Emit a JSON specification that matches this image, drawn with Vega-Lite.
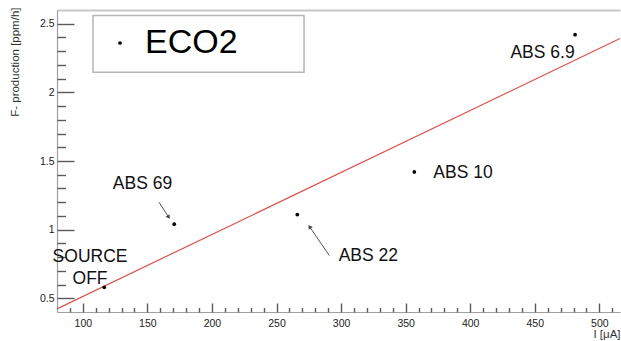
{
  "$schema": "https://vega.github.io/schema/vega-lite/v6.json",
  "width": 563,
  "height": 302,
  "autosize": {"type": "none"},
  "padding": {"left": 57, "top": 10, "right": 1, "bottom": 29},
  "background": "white",
  "config": {
    "font": "Liberation Sans",
    "view": {"stroke": null},
    "axis": {"grid": false, "domainColor": "#a0a0a0", "domainWidth": 1.2, "labelColor": "#222", "labelFontSize": 10.5, "titleColor": "#333", "titleFontWeight": "normal", "titleFontSize": 11.5}
  },
  "datasets": {
    "points": [
      {"current": 116.6, "production": 0.58},
      {"current": 170.8, "production": 1.04},
      {"current": 266.1, "production": 1.11},
      {"current": 356.7, "production": 1.42},
      {"current": 481.2, "production": 2.42}
    ],
    "fit": [
      {"current": 80, "production": 0.423},
      {"current": 516, "production": 2.392}
    ],
    "labels": [
      {"text": "ABS 6.9", "x": 456.0, "y": 2.252},
      {"text": "ABS 10", "x": 394.4, "y": 1.375},
      {"text": "ABS 22", "x": 321.1, "y": 0.770},
      {"text": "ABS 69", "x": 146.2, "y": 1.297},
      {"text": "SOURCE\nOFF", "x": 105.6, "y": 0.762}
    ],
    "arrows": [
      {"label": "ABS 69", "x": 159.0, "y": 1.20, "x2": 166.2, "y2": 1.095},
      {"label": "ABS 22", "x": 290.9, "y": 0.811, "x2": 275.9, "y2": 1.017}
    ]
  },
  "layer": [
    {
      "data": {"values": [{}]},
      "mark": {"type": "rect", "fill": "white", "stroke": "#b5b5b5", "strokeWidth": 1.5},
      "encoding": {
        "x": {"datum": 107.9, "type": "quantitative", "scale": {"domain": [80, 516], "nice": false, "zero": false},
              "axis": {"orient": "top", "ticks": false, "labels": false, "title": null, "domainColor": "#c8c8c8", "domainWidth": 2}},
        "x2": {"datum": 271.3},
        "y": {"datum": 2.56, "type": "quantitative", "scale": {"domain": [0.4, 2.6], "nice": false, "zero": false}, "axis": null},
        "y2": {"datum": 2.147}
      }
    },
    {
      "data": {"name": "fit"},
      "mark": {"type": "line", "color": "#d9534f", "strokeWidth": 1.2},
      "encoding": {
        "x": {"field": "current", "type": "quantitative", "scale": {"domain": [80, 516], "nice": false, "zero": false},
              "axis": {"orient": "bottom", "values": [100, 150, 200, 250, 300, 350, 400, 450, 500], "ticks": false, "labelPadding": 6,
                       "title": "I [μA]", "titleAnchor": "end", "titleAlign": "right", "titleX": 563, "titleY": 25, "titleBaseline": "alphabetic"}},
        "y": {"field": "production", "type": "quantitative", "scale": {"domain": [0.4, 2.6], "nice": false, "zero": false},
              "axis": {"orient": "left", "values": [0.5, 1, 1.5, 2, 2.5], "format": "~g", "ticks": false, "labelPadding": 3,
                       "title": "F- production [ppm/h]", "titleAnchor": "end", "titleAngle": -90, "titleAlign": "right", "titleBaseline": "middle", "titleX": -42, "titleY": -3}}
      }
    },
    {
      "data": {"name": "points"},
      "mark": {"type": "point", "filled": true, "size": 14, "opacity": 1},
      "encoding": {
        "x": {"field": "current", "type": "quantitative", "scale": {"domain": [80, 516], "nice": false, "zero": false},
              "axis": {"orient": "top", "offset": -302, "values": [100, 150, 200, 250, 300, 350, 400, 450, 500], "ticks": true, "tickSize": 9, "tickColor": "#5a5a5a", "tickWidth": 1.4, "labels": false, "domain": false, "title": null}},
        "y": {"field": "production", "type": "quantitative", "scale": {"domain": [0.4, 2.6], "nice": false, "zero": false},
              "axis": {"orient": "right", "offset": -563, "values": [0.5, 1, 1.5, 2, 2.5], "ticks": true, "tickSize": 17, "tickColor": "#5a5a5a", "tickWidth": 1.4, "labels": false, "domain": false, "title": null}},
        "color": {"datum": "ECO2", "type": "nominal", "scale": {"range": ["black"]},
                  "legend": {"orient": "none", "legendX": 46, "legendY": 16, "title": null, "padding": 0, "labelFontSize": 34, "labelColor": "black", "labelOffset": 8, "symbolSize": 14, "symbolType": "circle", "symbolStrokeWidth": 0}}
      }
    },
    {
      "data": {"name": "arrows"},
      "mark": {"type": "rule", "color": "#555", "strokeWidth": 1},
      "encoding": {
        "x": {"field": "x", "type": "quantitative", "scale": {"domain": [80, 516], "nice": false, "zero": false},
              "axis": {"orient": "top", "offset": -302, "values": [90, 110, 120, 130, 140, 160, 170, 180, 190, 210, 220, 230, 240, 260, 270, 280, 290, 310, 320, 330, 340, 360, 370, 380, 390, 410, 420, 430, 440, 460, 470, 480, 490, 510],
                       "ticks": true, "tickSize": 4.5, "tickColor": "#5a5a5a", "tickWidth": 1.4, "labels": false, "domain": false, "title": null}},
        "y": {"field": "y", "type": "quantitative", "scale": {"domain": [0.4, 2.6], "nice": false, "zero": false},
              "axis": {"orient": "right", "offset": -563, "values": [0.6, 0.7, 0.8, 0.9, 1.1, 1.2, 1.3, 1.4, 1.6, 1.7, 1.8, 1.9, 2.1, 2.2, 2.3, 2.4],
                       "ticks": true, "tickSize": 8.5, "tickColor": "#5a5a5a", "tickWidth": 1.4, "labels": false, "domain": false, "title": null}},
        "x2": {"field": "x2"},
        "y2": {"field": "y2"}
      }
    },
    {
      "data": {"name": "arrows"},
      "transform": [{"filter": "datum.label == 'ABS 69'"}],
      "mark": {"type": "point", "shape": "triangle", "angle": 147, "filled": true, "size": 22, "color": "#444", "opacity": 1},
      "encoding": {
        "x": {"field": "x2", "type": "quantitative", "scale": {"domain": [80, 516], "nice": false, "zero": false}, "axis": null},
        "y": {"field": "y2", "type": "quantitative", "scale": {"domain": [0.4, 2.6], "nice": false, "zero": false}, "axis": null}
      }
    },
    {
      "data": {"name": "arrows"},
      "transform": [{"filter": "datum.label == 'ABS 22'"}],
      "mark": {"type": "point", "shape": "triangle", "angle": 326, "filled": true, "size": 22, "color": "#444", "opacity": 1},
      "encoding": {
        "x": {"field": "x2", "type": "quantitative", "scale": {"domain": [80, 516], "nice": false, "zero": false}, "axis": null},
        "y": {"field": "y2", "type": "quantitative", "scale": {"domain": [0.4, 2.6], "nice": false, "zero": false}, "axis": null}
      }
    },
    {
      "data": {"name": "labels"},
      "mark": {"type": "text", "fontSize": 17.5, "color": "#111", "align": "center", "baseline": "alphabetic", "lineBreak": "\n", "lineHeight": 21.6},
      "encoding": {
        "x": {"field": "x", "type": "quantitative", "scale": {"domain": [80, 516], "nice": false, "zero": false}, "axis": null},
        "y": {"field": "y", "type": "quantitative", "scale": {"domain": [0.4, 2.6], "nice": false, "zero": false}, "axis": null},
        "text": {"field": "text"}
      }
    }
  ],
  "resolve": {"axis": {"x": "independent", "y": "independent"}}
}
